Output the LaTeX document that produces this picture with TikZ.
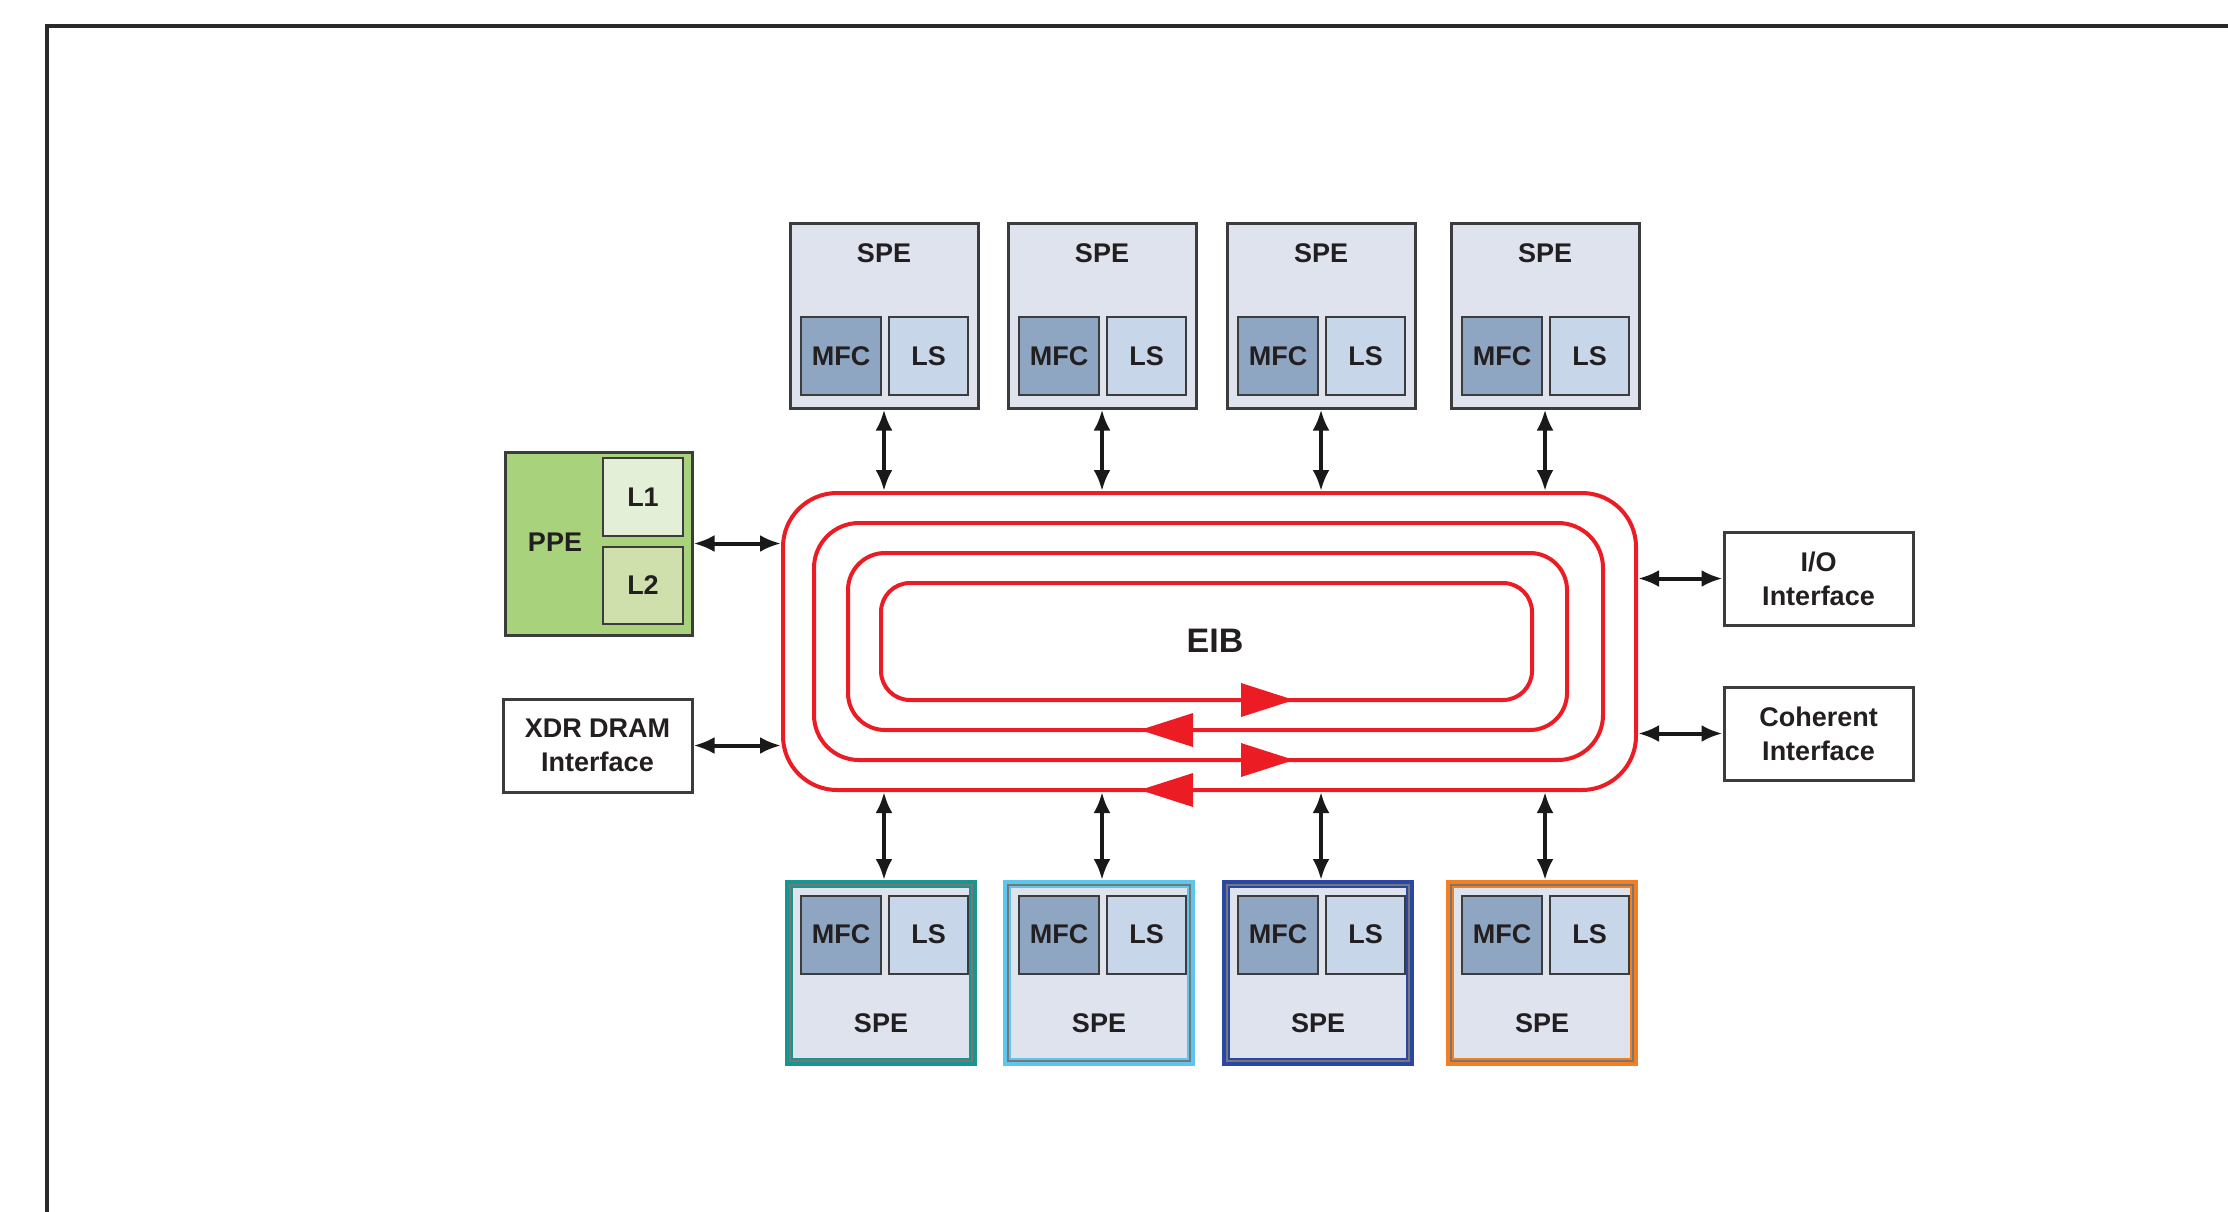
\documentclass[tikz,border=0pt]{standalone}
\usepackage{fontspec}
\setmainfont{Liberation Sans}
\usetikzlibrary{arrows.meta,calc}
\definecolor{spefill}{HTML}{DFE3EE}
\definecolor{mfcfill}{HTML}{8EA6C2}
\definecolor{lsfill}{HTML}{C8D6EA}
\definecolor{ppefill}{HTML}{A8D27C}
\definecolor{lonefill}{HTML}{E4EFD8}
\definecolor{ltwofill}{HTML}{CFE0AC}
\definecolor{boxborder}{HTML}{3C3C3C}
\definecolor{txt}{HTML}{231F20}
\definecolor{eibred}{HTML}{EC1C24}
\definecolor{cteal}{HTML}{17968F}
\definecolor{clight}{HTML}{5CC6EE}
\definecolor{cdark}{HTML}{2B47A5}
\definecolor{corange}{HTML}{F47F20}
\definecolor{framecol}{HTML}{2A2A2A}
\begin{document}
\begin{tikzpicture}[x=1pt,y=-1pt,
  font=\fontsize{27}{34}\selectfont\bfseries,
  box/.style={draw=boxborder, line width=3pt, inner sep=0pt, text=txt, align=center},
  spebox/.style={box, fill=spefill, minimum width=188pt, minimum height=185pt},
  bspebox/.style={box, fill=spefill, line width=8pt, minimum width=184pt, minimum height=178pt},
  mfcbox/.style={box, line width=2pt, fill=mfcfill, minimum width=80pt, minimum height=78pt},
  lsbox/.style={box, line width=2pt, fill=lsfill, minimum width=79pt, minimum height=78pt},
  ifbox/.style={box, fill=white, minimum width=189pt, minimum height=93pt},
  lbl/.style={inner sep=0pt, text=txt},
  eibring/.style={draw=eibred, line width=4pt, inner sep=0pt, rounded corners=#1},
  biarrow/.style={arrows={Latex[length=21pt,width=17pt]-Latex[length=21pt,width=17pt]}, line width=4pt, draw=black!90},
  ringhead/.style={fill=eibred}
]
\useasboundingbox (0,0) rectangle (2228,1211);

% frame
\draw[line width=4pt, framecol] (47,1215) -- (47,26) -- (2232,26);

% EIB rings
\node[eibring=54pt, minimum width=853pt, minimum height=297pt] (ring1) at (1209.5,641.5) {};
\node[eibring=45pt, minimum width=789pt, minimum height=237pt] (ring2) at (1208.5,641.5) {};
\node[eibring=37pt, minimum width=719pt, minimum height=177pt] (ring3) at (1207.5,641.5) {};
\node[eibring=29pt, minimum width=651pt, minimum height=117pt] (ring4) at (1206.5,641.5) {};
\node[lbl, font=\fontsize{34}{40}\selectfont\bfseries] (eiblbl) at (1215,641) {EIB};

% direction heads on the rings
\fill[ringhead] (1241,683) -- (1294,700) -- (1241,717) -- cycle;
\fill[ringhead] (1193,713) -- (1140,730) -- (1193,747) -- cycle;
\fill[ringhead] (1241,743) -- (1294,760) -- (1241,777) -- cycle;
\fill[ringhead] (1193,773) -- (1140,790) -- (1193,807) -- cycle;

% top SPEs
\foreach \i/\cx in {1/884,2/1102,3/1321,4/1545}{
  \node[spebox] (tspe\i) at (\cx,315.5) {};
  \node[lbl] (tspel\i) at (\cx,253) {SPE};
  \node[mfcbox] (tmfc\i) at (\cx-43,356) {MFC};
  \node[lsbox] (tls\i) at (\cx+44.5,356) {LS};
  \draw[biarrow] (tspe\i.south) -- (tspe\i.south |- ring1.north);
}

% bottom SPEs
\foreach \i/\cx/\col in {1/884/cteal,2/1102/clight,3/1321/cdark,4/1545/corange}{
  \node[bspebox, draw=\col] (bspe\i) at (\cx-3,973) {};
  \draw[boxborder!70, line width=1.5pt] ($(bspe\i.north west)+(5,5)$) rectangle ($(bspe\i.south east)+(-5,-5)$);
  \node[lbl] (bspel\i) at (\cx-3,1023) {SPE};
  \node[mfcbox] (bmfc\i) at (\cx-43,934.5) {MFC};
  \node[lsbox] (bls\i) at (\cx+44.5,934.5) {LS};
  \draw[biarrow] (ring1.south -| tspe\i) -- (bspe\i.north -| tspe\i);
}

% PPE
\node[box, fill=ppefill, minimum width=187pt, minimum height=183pt] (ppe) at (598.5,543.5) {};
\node[lbl] (ppel) at (555,542) {PPE};
\node[box, line width=2.5pt, fill=lonefill, minimum width=80pt, minimum height=78pt] (l1) at (643,497) {L1};
\node[box, line width=2.5pt, fill=ltwofill, minimum width=80pt, minimum height=77pt] (l2) at (643,585.5) {L2};
\draw[biarrow] (ppe.east) -- (ppe.east -| ring1.west);

% XDR DRAM
\node[ifbox] (xdr) at (597.5,745.5) {XDR DRAM\\Interface};
\draw[biarrow] (xdr.east) -- (xdr.east -| ring1.west);

% I/O and Coherent
\node[ifbox] (io) at (1818.5,578.5) {I/O\\Interface};
\node[ifbox] (coh) at (1818.5,733.5) {Coherent\\Interface};
\draw[biarrow] (io.west -| ring1.east) -- (io.west);
\draw[biarrow] (coh.west -| ring1.east) -- (coh.west);
\end{tikzpicture}
\end{document}
